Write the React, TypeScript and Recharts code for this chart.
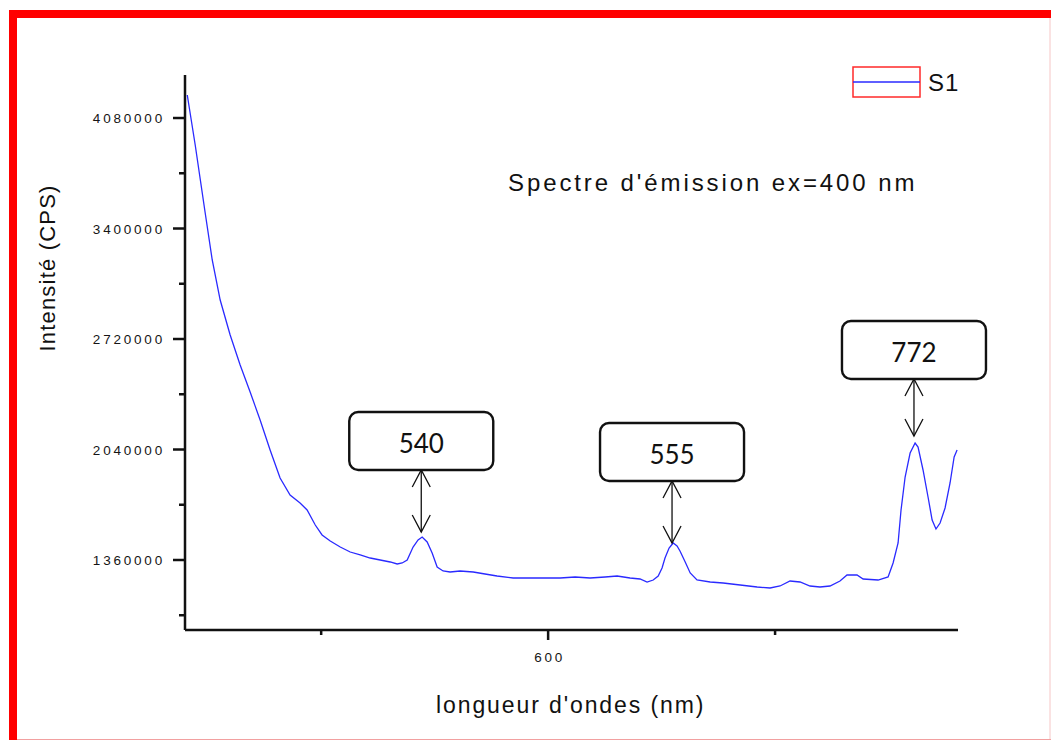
import { LineChart, Line, XAxis, YAxis, ReferenceDot } from "recharts";

// Emission spectrum, excitation 400 nm.
const wavelength = [
  441.0, 444.5, 446.7, 448.9, 452.0, 455.5, 459.9, 464.3, 468.7, 473.1,
  477.5, 481.9, 486.3, 490.7, 493.8, 497.4, 500.4, 504.0, 508.4, 512.8,
  517.2, 521.6, 526.0, 530.4, 533.5, 535.7, 537.9, 540.5, 542.7, 544.5,
  546.7, 548.9, 551.1, 553.7, 556.8, 561.2, 567.0, 572.2, 577.5, 584.6,
  592.1, 598.7, 605.3, 611.9, 618.5, 625.1, 630.4, 636.1, 640.5, 643.6,
  646.3, 648.5, 650.2, 651.5, 653.3, 655.1, 656.8, 658.1, 660.4, 662.6,
  665.6, 671.4, 677.1, 684.6, 692.1, 697.8, 702.2, 706.6, 711.0, 715.4,
  719.8, 724.2, 728.6, 731.7, 736.1, 738.8, 745.4, 749.8, 752.0, 754.2,
  755.5, 757.3, 759.5, 761.7, 763.0, 765.2, 767.4, 769.2, 770.9, 772.7,
  774.9, 777.1, 778.9, 780.2,
];
const intensity = [
  4221600, 3913900, 3704700, 3495400, 3206200, 2960000, 2744700, 2560000, 2393900, 2221600,
  2036900, 1864600, 1760000, 1710800, 1667700, 1575400, 1513900, 1476900, 1440000, 1409200,
  1390800, 1372300, 1360000, 1347700, 1335400, 1341500, 1360000, 1440000, 1483100, 1501500,
  1470800, 1403100, 1316900, 1292300, 1286200, 1292300, 1286200, 1273800, 1261500, 1249200,
  1249200, 1249200, 1249200, 1255400, 1249200, 1255400, 1261500, 1249200, 1243100, 1224600,
  1236900, 1261500, 1310800, 1372300, 1433800, 1464600, 1446200, 1415400, 1347700, 1280000,
  1236900, 1224600, 1218500, 1206200, 1193800, 1187700, 1200000, 1230800, 1224600, 1200000,
  1193800, 1200000, 1230800, 1267700, 1267700, 1243100, 1236900, 1255400, 1341500, 1464600,
  1667700, 1870800, 2018500, 2080000, 2055400, 1913900, 1747700, 1606200, 1550800, 1587700,
  1680000, 1833900, 1993900, 2036900,
];

const yMajorTicks = [1360000, 2040000, 2720000, 3400000, 4080000];
const yMinorTicks = [1020000, 1700000, 2380000, 3060000, 3740000];
const xMajorTicks = [600];
const xMinorTicks = [500, 700];

const peakLabels = ["540", "555", "772"];
const peakX = [544.1, 654.6, 761.2];
const peakY = [1532300, 1464600, 2123100];
const calloutStem = [62, 62, 57];

const data = wavelength.map((nm, i) => ({ nm, cps: intensity[i] }));

const BLUE = "#2a2aff";
const INK = "#111";
const SANS = "'Liberation Sans', Arial, sans-serif";

function YTick({ x, y, payload }: any) {
  const major = yMajorTicks.includes(payload.value);
  return (
    <g>
      <line x1={major ? x : x + 6} x2={x + 12} y1={y} y2={y} stroke={INK} strokeWidth={2.5} />
      {major && (
        <text x={x - 8} y={y + 5} textAnchor="end" fontFamily={SANS} fontSize={13.5} letterSpacing={2.8} fill="#151515">
          {payload.value}
        </text>
      )}
    </g>
  );
}

function XTick({ x, y, payload }: any) {
  const major = xMajorTicks.includes(payload.value);
  return (
    <g>
      <line x1={x} x2={x} y1={y - 10} y2={major ? y : y - 5} stroke={INK} strokeWidth={2.5} />
      {major && (
        <text x={x + 1.5} y={y + 22} textAnchor="middle" fontFamily={SANS} fontSize={13.5} letterSpacing={2.8} fill="#151515">
          {payload.value}
        </text>
      )}
    </g>
  );
}

function PeakCallout({ cx, cy, text, stem }: any) {
  const w = 144;
  const h = 58;
  const top = cy - stem - h;
  const base = cy - stem;
  return (
    <g>
      <line x1={cx} y1={cy} x2={cx} y2={base} stroke={INK} strokeWidth={1.3} />
      <polyline points={`${cx - 9},${cy - 17} ${cx},${cy} ${cx + 9},${cy - 17}`} fill="none" stroke={INK} strokeWidth={1.3} />
      <polyline points={`${cx - 9},${base + 17} ${cx},${base} ${cx + 9},${base + 17}`} fill="none" stroke={INK} strokeWidth={1.3} />
      <rect x={cx - w / 2} y={top} width={w} height={h} rx={9} fill="#fff" stroke={INK} strokeWidth={2.4} />
      <text x={cx} y={top + h / 2 + 12} textAnchor="middle" fontFamily="Lato, 'Open Sans', sans-serif" fontSize={26} fill={INK}>
        {text}
      </text>
    </g>
  );
}

export default function App() {
  return (
    <div style={{ position: "absolute", left: 0, top: 0, width: 1051, height: 740, background: "#fff", overflow: "hidden" }}>
      <LineChart width={1051} height={740} data={data} margin={{ top: 75, right: 93, bottom: 60, left: 125 }}>
        <XAxis
          dataKey="nm"
          type="number"
          domain={[440, 780.6]}
          ticks={[...xMinorTicks, ...xMajorTicks].sort((a, b) => a - b)}
          height={50}
          tickSize={10}
          tickMargin={0}
          tickLine={{ stroke: "transparent" }}
          axisLine={{ stroke: INK, strokeWidth: 2.5 }}
          tick={<XTick />}
          allowDataOverflow
        />
        <YAxis
          type="number"
          domain={[929200, 4344700]}
          ticks={[...yMinorTicks, ...yMajorTicks].sort((a, b) => a - b)}
          width={60}
          tickSize={12}
          tickMargin={0}
          tickLine={{ stroke: "transparent" }}
          axisLine={{ stroke: INK, strokeWidth: 2.5 }}
          tick={<YTick />}
          allowDataOverflow
        />
        <Line type="linear" dataKey="cps" stroke={BLUE} strokeWidth={1.3} dot={false} isAnimationActive={false} />
        {peakX.map((px, i) => (
          <ReferenceDot
            key={peakLabels[i]}
            x={px}
            y={peakY[i]}
            ifOverflow="visible"
            shape={(p: any) => <PeakCallout cx={p.cx} cy={p.cy} text={peakLabels[i]} stem={calloutStem[i]} />}
          />
        ))}
      </LineChart>

      <svg width={1051} height={740} style={{ position: "absolute", left: 0, top: 0, pointerEvents: "none" }}>
        {/* slide frame */}
        <rect x={9} y={10} width={1042} height={8} fill="#ff0000" />
        <rect x={9} y={10} width={8} height={730} fill="#ff0000" />
        <line x1={1050} y1={18} x2={1050} y2={740} stroke="#f6c6c6" strokeWidth={1} />
        <line x1={17} y1={739.5} x2={1051} y2={739.5} stroke="#f2a0a0" strokeWidth={1} />

        <text x={508} y={191} fontFamily={SANS} fontSize={24} letterSpacing={2.9} fill="#111">
          Spectre d'émission ex=400 nm
        </text>
        <text x={436} y={713} fontFamily={SANS} fontSize={23} letterSpacing={1.9} fill="#111">
          longueur d'ondes (nm)
        </text>
        <text
          x={47}
          y={268}
          transform="rotate(-90 47 268)"
          textAnchor="middle"
          dominantBaseline="central"
          fontFamily={SANS}
          fontSize={22}
          letterSpacing={1.2}
          fill="#111"
        >
          Intensité (CPS)
        </text>

        {/* legend */}
        <rect x={853} y={67} width={67} height={30} fill="#fff" stroke="#ff2a2a" strokeWidth={1.5} />
        <line x1={853} y1={82} x2={920} y2={82} stroke={BLUE} strokeWidth={1.5} />
        <text x={928} y={91} fontFamily={SANS} fontSize={24} letterSpacing={1} fill="#111">
          S1
        </text>
      </svg>
    </div>
  );
}
